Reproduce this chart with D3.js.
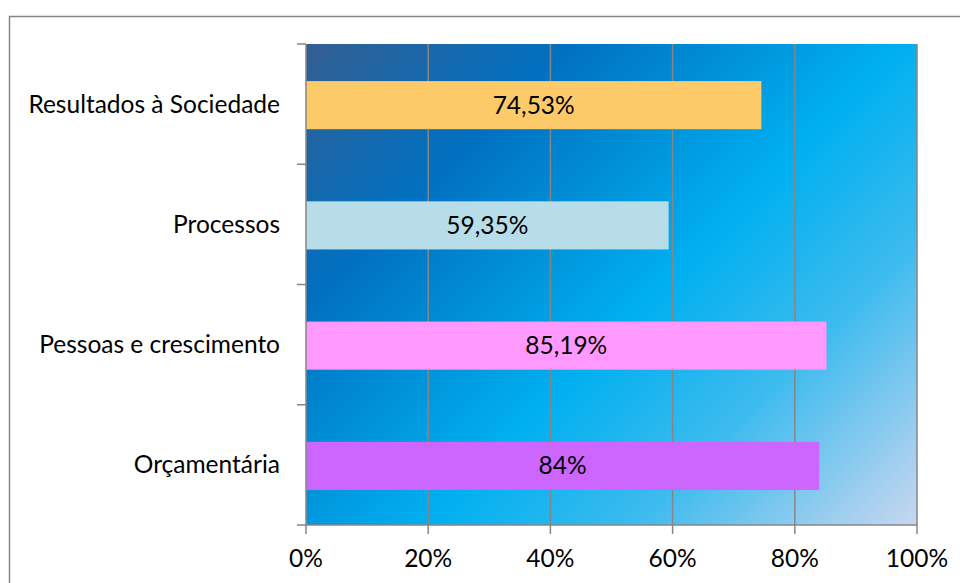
<!DOCTYPE html>
<html lang="pt">
<head>
    <meta charset="UTF-8">
    <title>Resultados</title>
    <style type="text/css">
        body { margin: 0; background: #fff; }
        text { font-family: Lato, "Open Sans", sans-serif; font-size: 24.5px; fill: #000; }
        .grid { stroke: #868686; stroke-width: 1.5; }
        .axis { stroke: #868686; stroke-width: 1.5; fill: none; }
    </style>
</head>
<body>
    <svg></svg>

    <script src="https://d3js.org/d3.v7.min.js"></script>
    <script>
        // data
        var categories = ['Resultados à Sociedade', 'Processos', 'Pessoas e crescimento', 'Orçamentária']
        var values = [74.53, 59.35, 85.19, 84]
        var barColors = ['#fdca6a', '#b7dde8', '#ff99ff', '#cc66ff']
        var xTicks = [0, 20, 40, 60, 80, 100]

        var svgWidth = 960
        var svgHeight = 583
        var plot = { left: 306, top: 44, right: 917, bottom: 525 }

        var svg = d3.select('svg')
            .attr('width', svgWidth)
            .attr('height', svgHeight)

        var x = d3.scaleLinear().domain([0, 100]).range([plot.left, plot.right])
        var y = d3.scaleBand().domain(categories).range([plot.top, plot.bottom]).padding(0)

        // outer frame (runs off the right and bottom)
        svg.append('rect')
            .attr('x', 9.5).attr('y', 16.5)
            .attr('width', 1200).attr('height', 1200)
            .attr('fill', 'none')
            .attr('stroke', '#868686')
            .attr('stroke-width', 1.5)

        // background gradient, 45 degrees
        var span = ((plot.right - plot.left) + (plot.bottom - plot.top)) / 2
        var grad = svg.append('defs').append('linearGradient')
            .attr('id', 'bg')
            .attr('gradientUnits', 'userSpaceOnUse')
            .attr('x1', plot.left).attr('y1', plot.top)
            .attr('x2', plot.left + span).attr('y2', plot.top + span)
        var stops = [
            [0, '#345e92'],
            [0.24, '#0070c0'],
            [0.55, '#00b0f0'],
            [0.74, '#3dbbee'],
            [1, '#c9d7ef']
        ]
        stops.forEach(function(s){
            grad.append('stop').attr('offset', s[0]).attr('stop-color', s[1])
        })

        svg.append('rect')
            .attr('x', plot.left).attr('y', plot.top)
            .attr('width', plot.right - plot.left)
            .attr('height', plot.bottom - plot.top)
            .attr('fill', 'url(#bg)')

        // vertical gridlines
        svg.selectAll('.grid')
            .data(xTicks.slice(1))
            .enter()
            .append('line')
            .attr('class', 'grid')
            .attr('x1', function(d){ return x(d) })
            .attr('x2', function(d){ return x(d) })
            .attr('y1', plot.top)
            .attr('y2', plot.bottom)

        // bars (gap width 150%)
        var barH = y.bandwidth() / 2.5
        svg.selectAll('.bar')
            .data(values)
            .enter()
            .append('rect')
            .attr('class', 'bar')
            .attr('x', x(0))
            .attr('y', function(d, i){ return y(categories[i]) + (y.bandwidth() - barH) / 2 + 1 })
            .attr('width', function(d){ return x(d) - x(0) })
            .attr('height', barH)
            .attr('fill', function(d, i){ return barColors[i] })

        // bar labels
        svg.selectAll('.val')
            .data(values)
            .enter()
            .append('text')
            .attr('class', 'val')
            .attr('x', function(d){ return (x(0) + x(d)) / 2 })
            .attr('y', function(d, i){ return y(categories[i]) + y.bandwidth() / 2 + 1 })
            .attr('dy', '0.35em')
            .attr('text-anchor', 'middle')
            .text(function(d){ return String(d).replace('.', ',') + '%' })

        // category axis
        svg.append('line')
            .attr('class', 'axis')
            .attr('x1', plot.left).attr('x2', plot.left)
            .attr('y1', plot.top).attr('y2', plot.bottom)
        var bounds = categories.map(function(c){ return y(c) }).concat([plot.bottom])
        svg.selectAll('.ytick')
            .data(bounds)
            .enter()
            .append('line')
            .attr('class', 'axis ytick')
            .attr('x1', plot.left - 9).attr('x2', plot.left)
            .attr('y1', function(d){ return d }).attr('y2', function(d){ return d })
        svg.selectAll('.cat')
            .data(categories)
            .enter()
            .append('text')
            .attr('class', 'cat')
            .attr('x', 280)
            .attr('y', function(d){ return y(d) + y.bandwidth() / 2 })
            .attr('dy', '0.35em')
            .attr('text-anchor', 'end')
            .text(function(d){ return d })

        // value axis
        svg.append('line')
            .attr('class', 'axis')
            .attr('x1', plot.left).attr('x2', plot.right)
            .attr('y1', plot.bottom).attr('y2', plot.bottom)
        svg.selectAll('.xtick')
            .data(xTicks)
            .enter()
            .append('line')
            .attr('class', 'axis xtick')
            .attr('x1', function(d){ return x(d) }).attr('x2', function(d){ return x(d) })
            .attr('y1', plot.bottom).attr('y2', plot.bottom + 9)
        svg.selectAll('.xlab')
            .data(xTicks)
            .enter()
            .append('text')
            .attr('class', 'xlab')
            .attr('x', function(d){ return x(d) })
            .attr('y', 567)
            .attr('text-anchor', 'middle')
            .text(function(d){ return d + '%' })
    </script>
</body>
</html>
